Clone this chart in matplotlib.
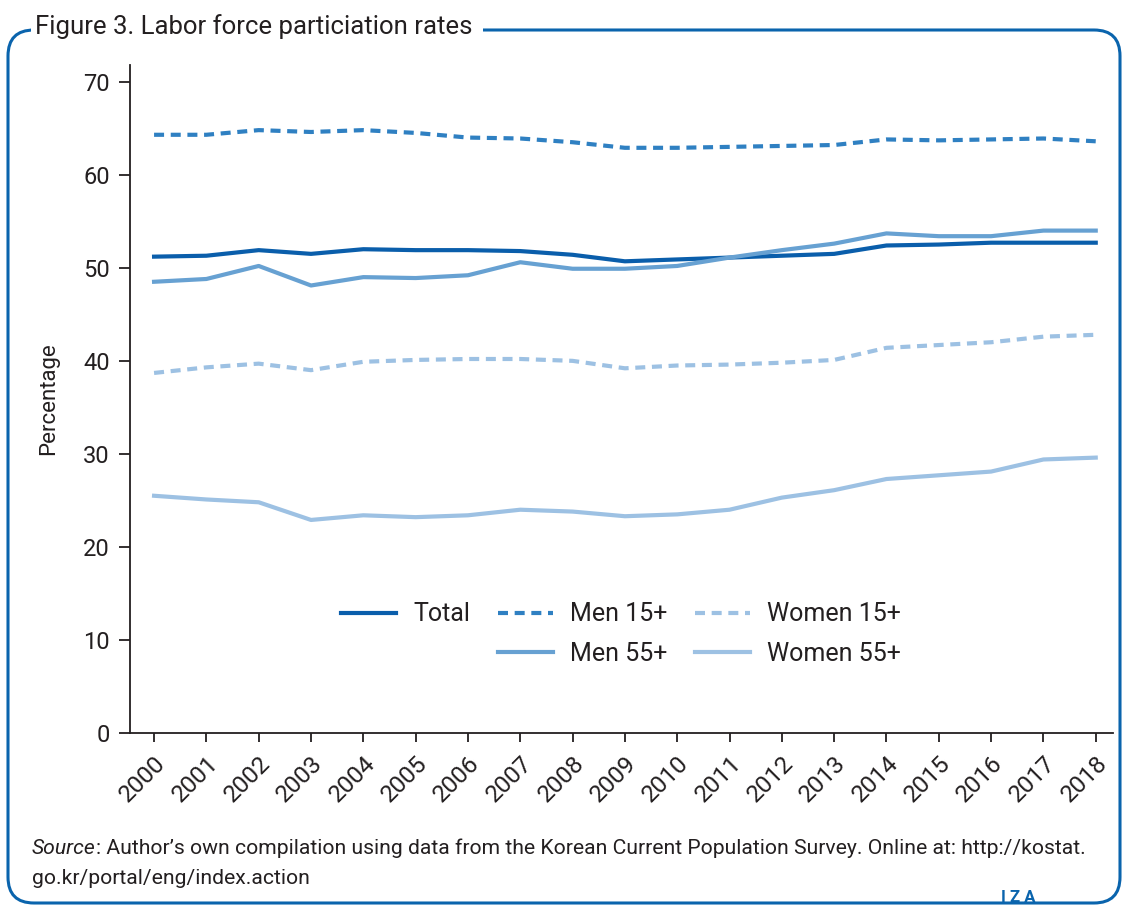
import numpy as np
import matplotlib
matplotlib.use("Agg")
import matplotlib.pyplot as plt
from matplotlib.patches import FancyBboxPatch
from matplotlib.lines import Line2D
from matplotlib.transforms import IdentityTransform

plt.rcParams['font.family'] = ['Roboto', 'DejaVu Sans']

# data
years = list(range(2000, 2019))
total = [51.2, 51.3, 51.9, 51.5, 52.0, 51.9, 51.9, 51.8, 51.4, 50.7,
         50.9, 51.1, 51.3, 51.5, 52.4, 52.5, 52.7, 52.7, 52.7]
men15 = [64.3, 64.3, 64.8, 64.6, 64.8, 64.5, 64.0, 63.9, 63.5, 62.9,
         62.9, 63.0, 63.1, 63.2, 63.8, 63.7, 63.8, 63.9, 63.6]
women15 = [38.7, 39.3, 39.7, 39.0, 39.9, 40.1, 40.2, 40.2, 40.0, 39.2,
           39.5, 39.6, 39.8, 40.1, 41.4, 41.7, 42.0, 42.6, 42.8]
men55 = [48.5, 48.8, 50.2, 48.1, 49.0, 48.9, 49.2, 50.6, 49.9, 49.9,
         50.2, 51.1, 51.9, 52.6, 53.7, 53.4, 53.4, 54.0, 54.0]
women55 = [25.5, 25.1, 24.8, 22.9, 23.4, 23.2, 23.4, 24.0, 23.8, 23.3,
           23.5, 24.0, 25.3, 26.1, 27.3, 27.7, 28.1, 29.4, 29.6]

c_total = "#0a5eab"
c_men15 = "#2f80c2"
c_men55 = "#67a1d2"
c_women = "#9dc1e3"
frame_col = "#0a64ad"
txt_col = "#231f20"

W, H = 1126, 906
fig = plt.figure(figsize=(W / 100, H / 100), dpi=100)

# rounded frame, in pixels (origin bottom-left)
frame = FancyBboxPatch((8, 3), 1112, H - 30 - 3,
                       boxstyle="round,pad=0,rounding_size=26",
                       transform=IdentityTransform(), fill=False,
                       edgecolor=frame_col, linewidth=2.2, clip_on=False)
fig.patches.append(frame)
fig.text(35 / W, 1 - 27 / H, "Figure 3. Labor force particiation rates ",
         fontsize=18.5, color=txt_col, va="center", ha="left",
         bbox=dict(facecolor="white", edgecolor="none", pad=3))

ax = fig.add_axes([130 / W, 1 - 733 / H, 983 / W, 668 / H])

lw = 3
ax.plot(years, total, color=c_total, lw=lw, label="Total")
ax.plot(years, men15, color=c_men15, lw=lw, dashes=(2.4, 1.6),
        dash_capstyle="butt", label="Men 15+")
ax.plot(years, women15, color=c_women, lw=lw, dashes=(2.4, 1.6),
        dash_capstyle="butt", label="Women 15+")
ax.plot(years, men55, color=c_men55, lw=lw, label="Men 55+")
ax.plot(years, women55, color=c_women, lw=lw, label="Women 55+")

ax.set_xlim(1999.54, 2018.33)
ax.set_ylim(0, 71.8)
ax.set_yticks(range(0, 71, 10))
ax.set_xticks(years)
ax.set_xticklabels([str(y) for y in years], rotation=45, ha="right",
                   rotation_mode="anchor")
ax.tick_params(axis="both", colors=txt_col, width=1.3, labelcolor=txt_col)
ax.tick_params(axis="x", labelsize=17.5, length=6.5, pad=7)
ax.tick_params(axis="y", labelsize=17, length=8, pad=6.5)
for s in ["top", "right"]:
    ax.spines[s].set_visible(False)
for s in ["left", "bottom"]:
    ax.spines[s].set_linewidth(1.3)
    ax.spines[s].set_color(txt_col)
ax.set_ylabel("Percentage", fontsize=16, color=txt_col)
ax.yaxis.set_label_coords((59 - 130) / 983, (733 - 399) / 668)

# legend: Total alone on first row
h, l = ax.get_legend_handles_labels()
blank = Line2D([], [], color="none")
order = [h[0], blank, h[1], h[3], h[2], h[4]]
labels = ["Total", "", "Men 15+", "Men 55+", "Women 15+", "Women 55+"]
ax.legend(order, labels, ncol=3, frameon=False, fontsize=18,
          loc="center", bbox_to_anchor=((621 - 130) / 983, (733 - 634) / 668),
          handlelength=2.2, columnspacing=1.1, labelspacing=0.62,
          handletextpad=0.7, labelcolor=txt_col)

# source note
y1 = 1 - 848 / H
t = fig.text(32 / W, y1, "Source", style="italic", fontsize=15.2,
             color=txt_col, va="center")
fig.canvas.draw()
bb = t.get_window_extent(renderer=fig.canvas.get_renderer())
fig.text(bb.x1 / W, y1,
         ": Author\u2019s own compilation using data from the Korean Current "
         "Population Survey. Online at: http://kostat.",
         fontsize=15.2, color=txt_col, va="center")
fig.text(32 / W, 1 - 878 / H, "go.kr/portal/eng/index.action",
         fontsize=15.2, color=txt_col, va="center")
fig.text(1018 / W, 1 - 898 / H, "I Z A", fontsize=12, fontweight="bold",
         color=frame_col, ha="center", va="center")

fig.savefig("out.png", dpi=100)
